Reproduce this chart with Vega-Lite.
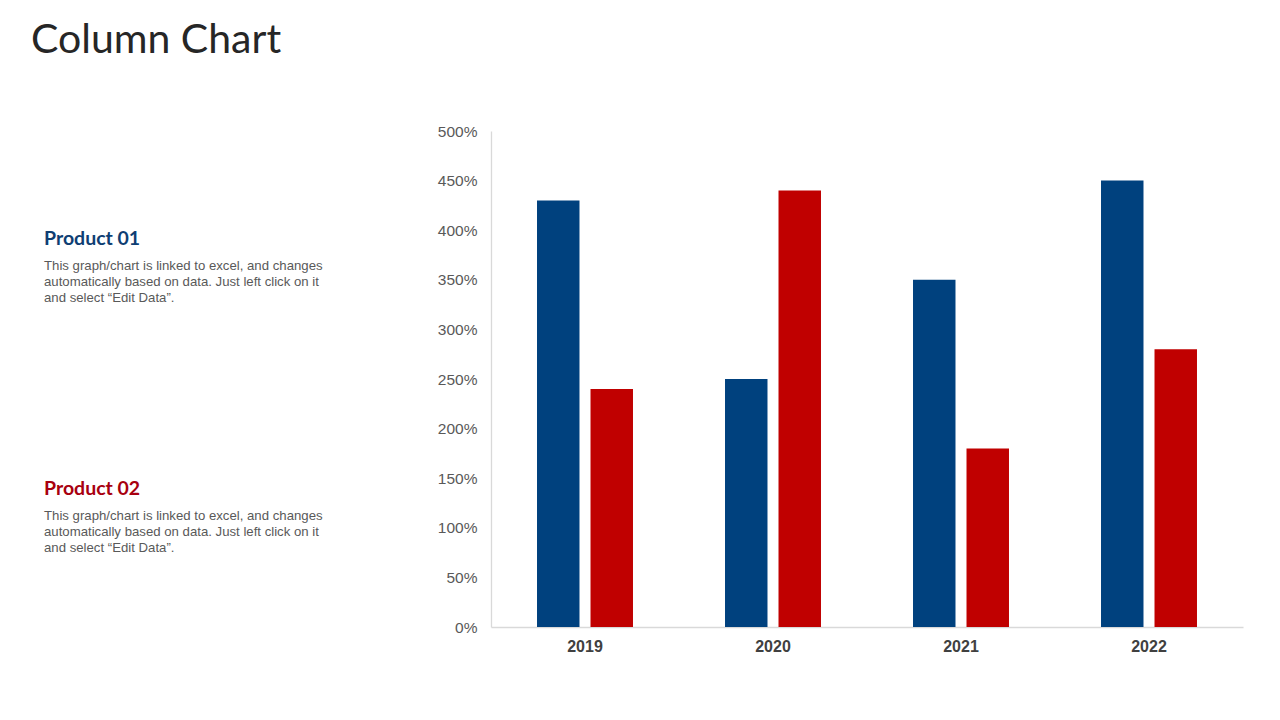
{
  "$schema": "https://vega.github.io/schema/vega-lite/v6.json",
  "padding": {"left": 31, "top": 20, "right": 5, "bottom": 5},
  "background": "white",
  "title": {
    "text": "Column Chart",
    "anchor": "start",
    "frame": "group",
    "font": "Lato",
    "fontSize": 41,
    "fontWeight": "normal",
    "color": "#262626",
    "offset": 62
  },
  "config": {
    "view": {"stroke": null},
    "font": "Liberation Sans"
  },
  "bounds": "flush",
  "spacing": 460,
  "hconcat": [
    {
      "bounds": "flush",
      "spacing": 249,
      "vconcat": [
        {
          "width": 300,
          "height": 1,
          "data": {"values": []},
          "mark": {"type": "text"},
          "encoding": {},
          "title": {
            "text": "Product 01",
            "subtitle": [
              "This graph/chart is linked to excel, and changes",
              "automatically based on data. Just left click on it",
              "and select “Edit Data”."
            ],
            "anchor": "start",
            "dx": 13,
            "dy": 178,
            "font": "Lato",
            "fontSize": 19.5,
            "fontWeight": "bold",
            "color": "#0E3E73",
            "subtitleFont": "Liberation Sans",
            "subtitleFontSize": 13.2,
            "subtitleColor": "#595959",
            "subtitleLineHeight": 16,
            "subtitlePadding": 10
          }
        },
        {
          "width": 300,
          "height": 1,
          "data": {"values": []},
          "mark": {"type": "text"},
          "encoding": {},
          "title": {
            "text": "Product 02",
            "subtitle": [
              "This graph/chart is linked to excel, and changes",
              "automatically based on data. Just left click on it",
              "and select “Edit Data”."
            ],
            "anchor": "start",
            "dx": 13,
            "dy": 178,
            "font": "Lato",
            "fontSize": 19.5,
            "fontWeight": "bold",
            "color": "#A8000F",
            "subtitleFont": "Liberation Sans",
            "subtitleFontSize": 13.2,
            "subtitleColor": "#595959",
            "subtitleLineHeight": 16,
            "subtitlePadding": 10
          }
        }
      ]
    },
    {
      "width": 752,
      "height": 496,
      "data": {
        "values": [
          {"year": "2019", "product": "Product 01", "value": 4.3},
          {"year": "2019", "product": "Product 02", "value": 2.4},
          {"year": "2020", "product": "Product 01", "value": 2.5},
          {"year": "2020", "product": "Product 02", "value": 4.4},
          {"year": "2021", "product": "Product 01", "value": 3.5},
          {"year": "2021", "product": "Product 02", "value": 1.8},
          {"year": "2022", "product": "Product 01", "value": 4.5},
          {"year": "2022", "product": "Product 02", "value": 2.8}
        ]
      },
      "mark": {"type": "bar"},
      "encoding": {
        "x": {
          "field": "year",
          "type": "nominal",
          "scale": {"paddingInner": 0, "paddingOuter": 0},
          "axis": {
            "title": null,
            "labelAngle": 0,
            "labelFont": "Liberation Sans",
            "labelFontSize": 16,
            "labelFontWeight": "bold",
            "labelColor": "#404040",
            "labelPadding": 11,
            "ticks": false,
            "domainColor": "#D9D9D9",
            "domainWidth": 1.3,
            "grid": false
          }
        },
        "xOffset": {
          "field": "product",
          "type": "nominal",
          "scale": {"paddingInner": 0.206, "paddingOuter": 0.86}
        },
        "y": {
          "field": "value",
          "type": "quantitative",
          "scale": {"domain": [0, 5], "nice": false},
          "axis": {
            "title": null,
            "values": [0, 0.5, 1, 1.5, 2, 2.5, 3, 3.5, 4, 4.5, 5],
            "format": ".0%",
            "labelFont": "Liberation Sans",
            "labelFontSize": 15.5,
            "labelColor": "#595959",
            "labelPadding": 14,
            "ticks": false,
            "domainColor": "#D9D9D9",
            "domainWidth": 1.3,
            "grid": false
          }
        },
        "color": {
          "field": "product",
          "type": "nominal",
          "scale": {"domain": ["Product 01", "Product 02"], "range": ["#00417E", "#C00000"]},
          "legend": null
        }
      }
    }
  ]
}
